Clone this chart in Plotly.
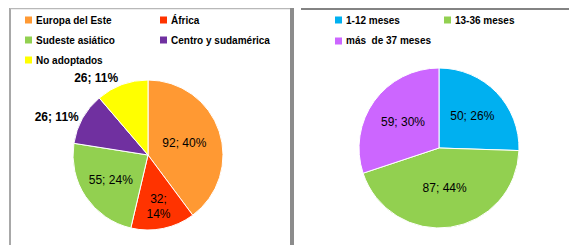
import plotly.graph_objects as go

# ---- data ----
origen_labels = ["Europa del Este", "África", "Sudeste asiático", "Centro y sudamérica", "No adoptados"]
origen_values = [92, 32, 55, 26, 26]
origen_colors = ["#FF9933", "#FF3300", "#92D050", "#7030A0", "#FFFF00"]

edad_labels = ["1-12 meses", "13-36 meses", "más  de 37 meses"]
edad_values = [50, 87, 59]
edad_colors = ["#00B0F0", "#92D050", "#CC66FF"]

# window 577x245; the page body has an 8px default margin
OFF = 8
W, H = 577 - OFF, 245 - OFF


def px(x):
    return (x - OFF) / W


def py(y):
    return 1 - (y - OFF) / H


FONT = "Liberation Sans"

fig = go.Figure()

tpl = "%{value}; %{percent:.0%}"
fig.add_trace(go.Pie(
    labels=origen_labels, values=origen_values,
    marker=dict(colors=origen_colors, line=dict(color="white", width=1)),
    sort=False, direction="clockwise", rotation=0,
    texttemplate=[tpl, "%{value};<br>%{percent:.0%}", tpl, tpl, tpl],
    textposition=["inside", "inside", "inside", "outside", "outside"],
    insidetextorientation="horizontal",
    insidetextfont=dict(family=FONT, size=12, color="black"),
    outsidetextfont=dict(family=FONT, size=12, color="black", weight="bold"),
    domain=dict(x=[px(73), px(223)], y=[py(230), py(80)]),
    showlegend=False, hoverinfo="label+value+percent",
))

fig.add_trace(go.Pie(
    labels=edad_labels, values=edad_values,
    marker=dict(colors=edad_colors, line=dict(color="white", width=1)),
    sort=False, direction="clockwise", rotation=0,
    texttemplate=tpl, textposition="inside",
    insidetextorientation="horizontal",
    insidetextfont=dict(family=FONT, size=12, color="black"),
    domain=dict(x=[px(359), px(519)], y=[py(228), py(68)]),
    showlegend=False, hoverinfo="label+value+percent",
))

shapes = [
    # left panel frame
    dict(type="line", xref="paper", yref="paper", x0=px(10), x1=px(10), y0=py(5.5), y1=0,
         line=dict(color="#A8A8A8", width=2)),
    dict(type="line", xref="paper", yref="paper", x0=px(10), x1=px(291), y0=py(8.5), y1=py(8.5),
         line=dict(color="#B8B8B8", width=1.5)),
    dict(type="rect", xref="paper", yref="paper", x0=px(290), x1=px(294), y0=0, y1=1,
         fillcolor="#8C8C8C", line=dict(width=0)),
    # right panel top line
    dict(type="line", xref="paper", yref="paper", x0=px(301), x1=1, y0=py(9), y1=py(9),
         line=dict(color="#5A5A5A", width=1.5)),
]

annotations = []

# legends
left_pos = [(25, 20), (160, 20), (25, 40), (160, 40), (25, 60)]
right_pos = [(335, 20), (444, 20), (335, 41)]
for labels, colors, pos in ((origen_labels, origen_colors, left_pos),
                            (edad_labels, edad_colors, right_pos)):
    for lab, col, (x, y) in zip(labels, colors, pos):
        shapes.append(dict(type="rect", xref="paper", yref="paper",
                           x0=px(x), x1=px(x + 7), y0=py(y + 3.5), y1=py(y - 3.5),
                           fillcolor=col, line=dict(width=0)))
        annotations.append(dict(x=px(x + 9), y=py(y), xref="paper", yref="paper",
                                text=lab, showarrow=False, xanchor="left", yanchor="middle",
                                font=dict(family=FONT, size=10, color="black", weight="bold")))

fig.update_layout(
    width=W, height=H,
    margin=dict(l=0, r=0, t=0, b=0),
    paper_bgcolor="white", plot_bgcolor="white",
    shapes=shapes, annotations=annotations,
    showlegend=False,
)

fig.write_html("out.html")
